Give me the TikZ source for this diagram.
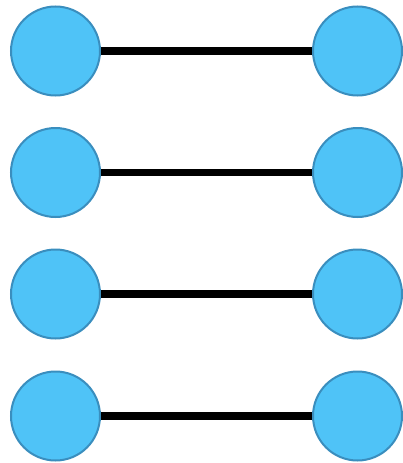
\documentclass[tikz,border=0pt]{standalone}
\definecolor{ballfill}{HTML}{4FC3F7}
\definecolor{balledge}{HTML}{3A8EBE}
\tikzset{
  ball/.style={draw=balledge, fill=ballfill, line width=2pt, circle, minimum size=89pt, inner sep=0pt},
  bond/.style={line width=7.5pt, black}
}
\begin{document}
\begin{tikzpicture}[x=1pt, y=-1pt]
  \useasboundingbox (0,0) rectangle (402,463);
  % Pairs of balls
  \foreach \i/\y in {1/51, 2/172.5, 3/294, 4/416} {
    \node[ball] (L\i) at (55.5, \y) {};
    \node[ball] (R\i) at (357.5, \y) {};
  }
  % Bonds between each pair
  \foreach \i in {1,2,3,4} {
    \draw[bond] (L\i) -- (R\i);
  }
\end{tikzpicture}
\end{document}
